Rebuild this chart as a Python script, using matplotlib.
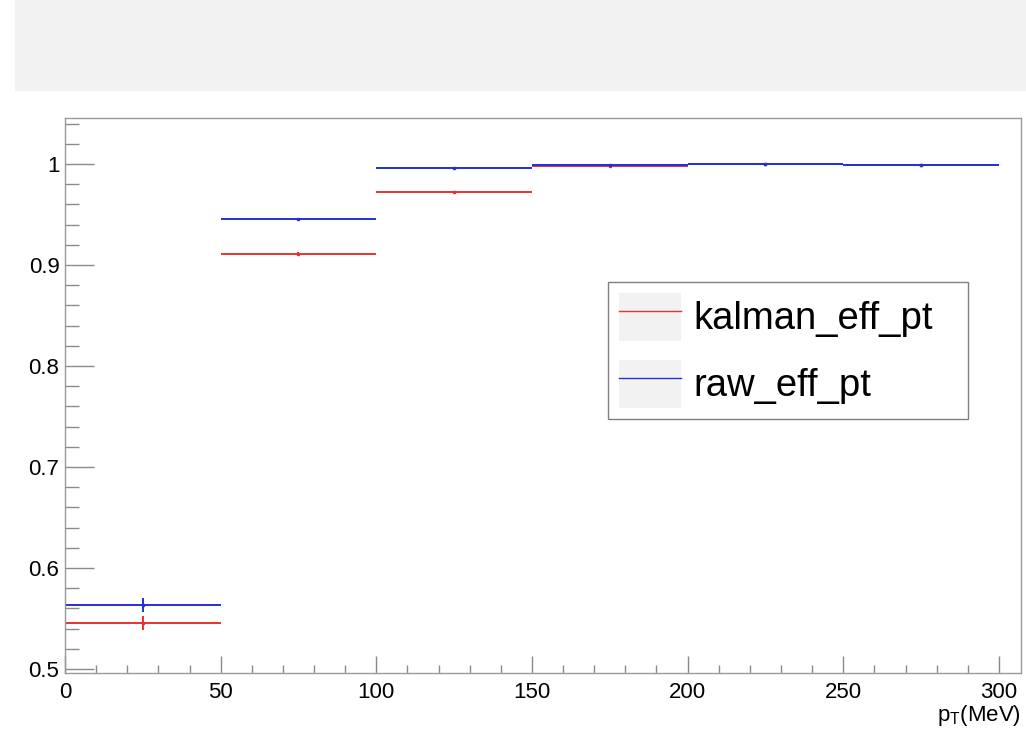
import matplotlib
matplotlib.use("Agg")
import matplotlib.pyplot as plt
import numpy as np
from matplotlib.patches import Rectangle, Patch
from matplotlib.lines import Line2D
from matplotlib.ticker import MultipleLocator
from matplotlib.legend_handler import HandlerTuple

plt.rcParams['font.family'] = ['Liberation Sans', 'DejaVu Sans']
plt.rcParams['mathtext.fontset'] = 'custom'
plt.rcParams['mathtext.rm'] = 'Liberation Sans'

# pT bins (MeV) and efficiencies per bin
bin_edges = [0, 50, 100, 150, 200, 250, 300]
kalman_eff = [0.5455, 0.9109, 0.9723, 0.9980, 0.9996, 0.9985]
kalman_err = [0.0074, 0.0015, 0.0012, 0.0005, 0.0002, 0.0003]
raw_eff = [0.5634, 0.9452, 0.9960, 0.9994, 0.9996, 0.9985]
raw_err = [0.0068, 0.0013, 0.0006, 0.0003, 0.0002, 0.0003]
series_names = ['kalman_eff_pt', 'raw_eff_pt']

W, H = 1026, 745
fig = plt.figure(figsize=(W / 100, H / 100), dpi=100)

# empty title pad across the top
fig.patches.append(Rectangle((15 / W, 1 - 91 / H), 1 - 15 / W, 91 / H,
                             transform=fig.transFigure, facecolor='#f2f2f2',
                             edgecolor='none', zorder=0))

left, right, top, bottom = 65, 1021, 117.7, 672.7
ax = fig.add_axes([left / W, 1 - bottom / H, (right - left) / W, (bottom - top) / H])

edges = np.array(bin_edges, dtype=float)
centers = 0.5 * (edges[:-1] + edges[1:])
half = 0.5 * np.diff(edges)

colors = ['#e8322f', '#2231d6']
handles = []
for vals, errs, c in [(kalman_eff, kalman_err, colors[0]),
                      (raw_eff, raw_err, colors[1])]:
    ax.errorbar(centers, vals, xerr=half, yerr=errs, fmt='none', ecolor=c,
                elinewidth=1.4, capsize=0)
    ax.plot(centers, vals, 's', ms=2, color=c, mec=c)
    handles.append((Patch(facecolor='#f2f2f2', edgecolor='none'),
                    Line2D([], [], color=c, lw=1.0)))

ax.set_xlim(0, 307.1)
ax.set_ylim(0.4963, 1.0458)

ax.xaxis.set_major_locator(MultipleLocator(50))
ax.xaxis.set_minor_locator(MultipleLocator(10))
ax.yaxis.set_major_locator(MultipleLocator(0.1))
ax.yaxis.set_minor_locator(MultipleLocator(0.02))
ax.yaxis.set_major_formatter(plt.FuncFormatter(lambda v, p: f'{v:g}'))

tick_c = '#8a8a8a'
ax.tick_params(axis='both', which='both', direction='in', color=tick_c,
               labelsize=16, labelcolor='black', width=1.0)
ax.tick_params(axis='x', which='major', length=12, pad=7)
ax.tick_params(axis='x', which='minor', length=6)
ax.tick_params(axis='y', which='major', length=20.6, pad=4)
ax.tick_params(axis='y', which='minor', length=10.3)
for s in ax.spines.values():
    s.set_color('#9a9a9a')
    s.set_linewidth(1.0)

fig.text(right / W, 1 - 721 / H, r'p$_\mathregular{T}$(MeV)', ha='right',
         va='baseline', fontsize=16)

leg = ax.legend(handles, series_names, loc='upper left', mode='expand',
                bbox_to_anchor=(608 / W, 1 - 420 / H, 360 / W, 138 / H),
                bbox_transform=fig.transFigure, borderaxespad=0,
                handler_map={tuple: HandlerTuple(ndivide=1, pad=0)},
                fontsize=27.5, handlelength=1.62, handleheight=1.557,
                labelspacing=0.5, borderpad=0.28, handletextpad=0.34,
                fancybox=False, framealpha=1, edgecolor='#808080')
leg.get_frame().set_linewidth(1.0)

fig.savefig('out.png', dpi=100)
